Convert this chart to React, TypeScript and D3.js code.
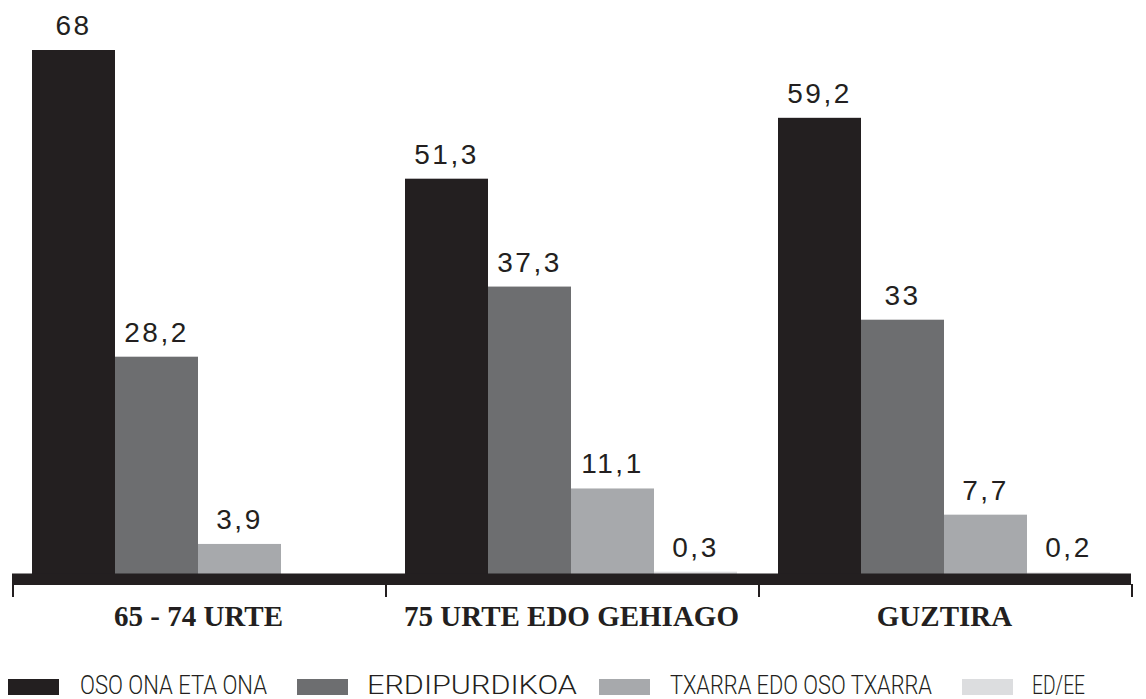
import React from "react";
import * as d3 from "d3";

const categories = ["65 - 74 URTE", "75 URTE EDO GEHIAGO", "GUZTIRA"];
const seriesNames = ["OSO ONA ETA ONA", "ERDIPURDIKOA", "TXARRA EDO OSO TXARRA", "ED/EE"];
const osoOna: (number | null)[] = [68, 51.3, 59.2];
const erdipurdikoa: (number | null)[] = [28.2, 37.3, 33];
const txarra: (number | null)[] = [3.9, 11.1, 7.7];
const edee: (number | null)[] = [null, 0.3, 0.2];
const seriesValues = [osoOna, erdipurdikoa, txarra, edee];
const seriesColors = ["#231f20", "#6d6e70", "#a7a9ac", "#dcdddf"];

const W = 1146;
const H = 699;
const axisLeft = 12;
const axisRight = 1131;
const baseline = 574;
const ink = "#231f20";

const legendLayout = [
  { sx: 8, tx: 80, tw: 187 },
  { sx: 297, tx: 367, tw: 210 },
  { sx: 599, tx: 670, tw: 262 },
  { sx: 962, tx: 1032, tw: 53 },
];

export default function App() {
  const x = d3.scaleBand<string>().domain(categories).range([axisLeft, axisRight]).padding(0);
  const inner = d3
    .scaleBand<string>()
    .domain(seriesNames)
    .range([20, x.bandwidth() - 21])
    .padding(0);
  const y = d3.scaleLinear().domain([0, 68]).range([baseline, 50]);
  const fmt = (v: number) => String(v).replace(".", ",");

  const tickXs = [...categories.map((c) => x(c)!), axisRight];

  return (
    <svg
      width={W}
      height={H}
      style={{ position: "absolute", left: 0, top: 0, background: "#fff" }}
    >
      {categories.map((c, ci) => (
        <g key={c} transform={`translate(${x(c)},0)`}>
          {seriesNames.map((s, si) => {
            const v = seriesValues[si][ci];
            if (v == null) return null;
            const bx = inner(s)!;
            const bw = inner.bandwidth();
            return (
              <g key={s}>
                <rect
                  x={bx}
                  y={y(v)}
                  width={bw}
                  height={baseline - y(v)}
                  fill={seriesColors[si]}
                />
                <text
                  x={bx + bw / 2}
                  y={y(v) - 15}
                  textAnchor="middle"
                  fontFamily="'Liberation Sans', Arial, sans-serif"
                  fontSize={28}
                  letterSpacing={2.5}
                  fill={ink}
                >
                  {fmt(v)}
                </text>
              </g>
            );
          })}
        </g>
      ))}
      <rect x={axisLeft} y={baseline - 0.5} width={axisRight - axisLeft} height={11.5} fill={ink} />
      {tickXs.map((tx, i) => (
        <line key={i} x1={tx + 1} x2={tx + 1} y1={baseline + 10} y2={597} stroke={ink} strokeWidth={2} />
      ))}
      {categories.map((c) => (
        <text
          key={c}
          x={x(c)! + x.bandwidth() / 2}
          y={626}
          textAnchor="middle"
          fontFamily="'Liberation Serif', 'Times New Roman', serif"
          fontWeight="bold"
          fontSize={29}
          fill={ink}
        >
          {c}
        </text>
      ))}
      {seriesNames.map((s, i) => {
        const L = legendLayout[i];
        return (
          <g key={s}>
            <rect x={L.sx} y={679} width={51} height={16} fill={seriesColors[i]} />
            <text
              x={L.tx}
              y={694}
              fontFamily="Roboto, 'Liberation Sans', sans-serif"
              fontWeight={300}
              fontSize={25}
              textLength={L.tw}
              lengthAdjust="spacingAndGlyphs"
              fill={ink}
            >
              {s}
            </text>
          </g>
        );
      })}
    </svg>
  );
}
